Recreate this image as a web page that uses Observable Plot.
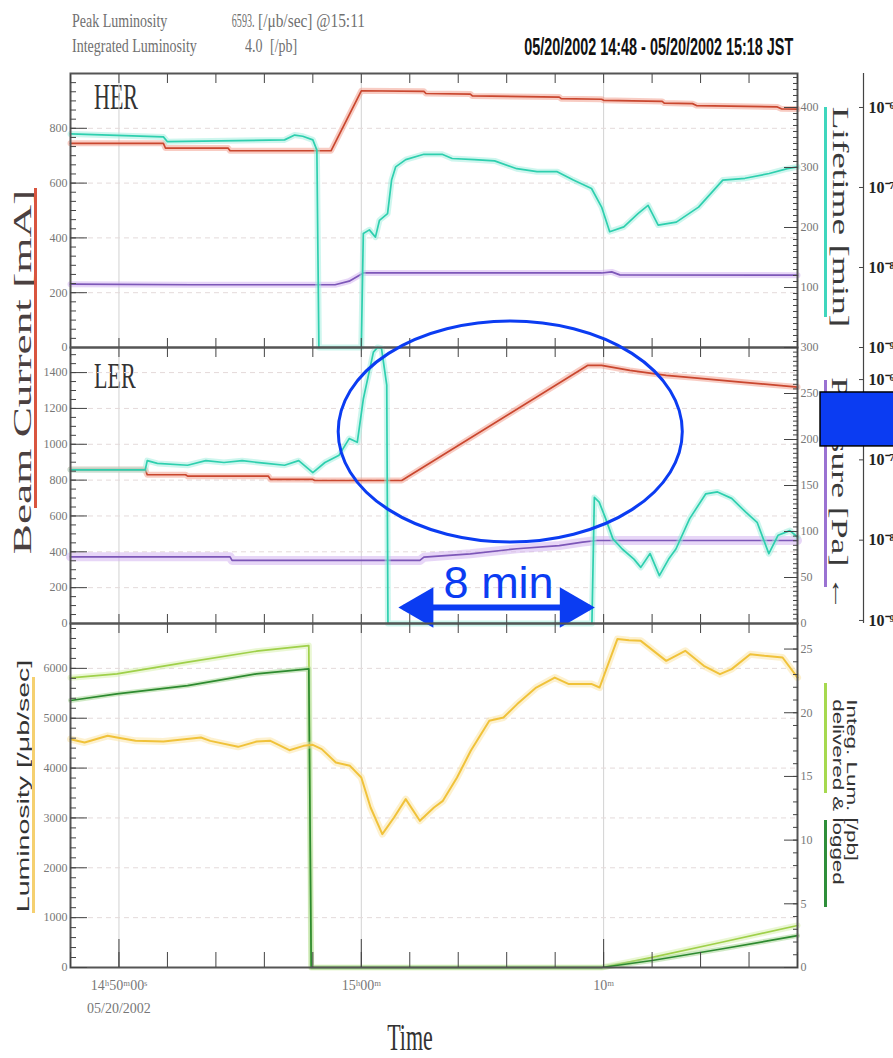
<!DOCTYPE html>
<html>
<head>
<meta charset="utf-8">
<script src="https://cdn.jsdelivr.net/npm/d3@7"></script>
<script src="https://cdn.jsdelivr.net/npm/@observablehq/plot@0.6"></script>
<style>
html,body{margin:0;padding:0;background:#fff;}
body{position:relative;width:893px;height:1058px;overflow:hidden;font-family:"Liberation Serif","DejaVu Serif",serif;}
.t{position:absolute;white-space:nowrap;line-height:1;}
.bar{position:absolute;}
svg{overflow:visible;}
</style>
</head>
<body>
<script>
// ================= DATA =================
const timeStart = "14:48:00", timeEnd = "15:18:00";
const majorTimes = ["14:50:00", "15:00:00", "15:10:00"];
const majorLabels = ["14ʰ50ᵐ00ˢ\n05/20/2002", "15ʰ00ᵐ", "10ᵐ"];

// HER beam current [mA]
const herCurTime = ["14:48:00","14:51:50","14:51:55","14:54:30","14:54:35","14:58:45","15:00:00","15:02:35","15:02:40","15:04:30","15:04:35","15:08:10","15:08:15","15:09:55","15:10:00","15:12:25","15:12:30","15:13:40","15:13:50","15:17:10","15:17:20","15:18:00"];
const herCur = [745,745,728,728,718,718,937,935,927,925,918,914,908,906,902,898,892,890,883,878,871,870];
// HER lifetime [min] (right axis)
const herLifeTime = ["14:48:00","14:51:50","14:52:00","14:56:50","14:57:15","14:57:35","14:58:00","14:58:10","14:58:15","15:00:00","15:00:05","15:00:20","15:00:35","15:00:45","15:01:05","15:01:15","15:01:25","15:01:50","15:02:35","15:03:20","15:03:45","15:04:40","15:05:30","15:06:25","15:07:15","15:08:05","15:08:45","15:09:30","15:09:55","15:10:15","15:10:50","15:11:25","15:11:50","15:12:15","15:13:00","15:13:55","15:14:55","15:15:50","15:16:50","15:17:35","15:18:00"];
const herLife = [356,351,343,346,354,352,346,329,0,0,190,196,184,212,223,279,301,313,322,322,315,313,311,298,293,293,279,265,234,193,201,223,237,204,209,234,279,282,290,298,301];
// HER purple trace (in left-axis units)
const herPurpleTime = ["14:48:00","14:53:00","14:58:55","14:59:30","15:00:05","15:09:55","15:10:20","15:10:40","15:18:00"];
const herPurple = [231,229,229,242,272,272,276,265,264];

// LER beam current [mA]
const lerCurTime = ["14:48:00","14:51:05","14:51:10","14:52:45","14:52:50","14:56:10","14:56:15","14:58:00","14:58:05","15:01:40","15:09:20","15:09:55","15:11:05","15:12:35","15:13:45","15:15:40","15:18:00"];
const lerCur = [859,859,830,830,822,822,804,804,798,798,1440,1440,1412,1384,1371,1347,1319];
// LER cyan trace (right axis units)
const lerLifeTime = ["14:48:00","14:51:05","14:51:10","14:51:35","14:52:50","14:53:35","14:54:20","14:55:05","14:56:05","14:56:50","14:57:25","14:58:00","14:58:30","14:59:05","14:59:30","14:59:50","15:00:05","15:00:30","15:00:40","15:00:50","15:01:03","15:01:06","15:09:31","15:09:37","15:09:49","15:10:05","15:10:23","15:10:46","15:11:15","15:11:32","15:11:55","15:12:18","15:12:41","15:12:59","15:13:33","15:14:13","15:14:42","15:15:17","15:15:52","15:16:20","15:16:49","15:17:12","15:17:41","15:18:00"];
const lerLife = [167,167,177,174,172,177,175,177,174,172,177,164,175,183,201,197,244,295,300,299,259,0,0,137,132,114,92,81,70,61,76,52,70,81,114,141,143,136,121,110,76,96,101,94];
// LER purple trace (left-axis units)
const lerPurpleTime = ["14:48:00","14:54:35","14:54:40","15:02:25","15:02:35","15:04:30","15:06:25","15:08:10","15:09:08","15:09:43","15:18:00"];
const lerPurple = [372,372,352,352,370,389,417,435,454,463,463];

// Luminosity [/μb/sec]
const lumTime = ["14:48:00","14:48:35","14:49:32","14:49:55","14:50:41","14:51:50","14:53:23","14:53:46","14:54:55","14:55:41","14:56:15","14:57:02","14:57:37","14:58:00","14:58:22","14:58:57","14:59:32","15:00:00","15:00:23","15:00:52","15:01:21","15:01:50","15:02:25","15:03:00","15:03:22","15:03:57","15:04:31","15:05:17","15:05:52","15:06:26","15:07:13","15:07:59","15:08:34","15:09:31","15:09:50","15:10:34","15:11:03","15:11:32","15:12:35","15:13:22","15:14:08","15:14:48","15:15:17","15:16:03","15:16:38","15:17:23","15:18:00"];
const lum = [4580,4513,4647,4613,4546,4533,4613,4546,4426,4533,4546,4359,4446,4466,4380,4112,4045,3811,3209,2675,3009,3377,2942,3209,3343,3811,4346,4948,5014,5283,5616,5816,5684,5684,5616,6587,6566,6552,6151,6352,6051,5884,5985,6285,6251,6218,5816];
// Integrated luminosity [/pb] delivered & logged
const intTime = ["14:48:00","14:49:55","14:52:50","14:55:40","14:57:50","14:57:56","15:09:55","15:12:00","15:14:55","15:18:00"];
const intDelivered = [22.74,23.05,23.97,24.83,25.27,0,0,0.8,2.0,3.3];
const intLogged = [20.96,21.48,22.13,23.05,23.45,0,0,0.55,1.47,2.5];

// axis ticks
const herLeftTicks = [0,200,400,600,800];
const herRightTicks = [100,200,300,400];
const lerLeftTicks = [0,200,400,600,800,1000,1200,1400];
const lerRightTicks = [0,50,100,150,200,250,300];
const lumLeftTicks = [0,1000,2000,3000,4000,5000,6000];
const lumRightTicks = [0,5,10,15,20,25];
const logExps = [-9,-8,-7,-6];
const logLabels = ["10⁻⁹","10⁻⁸","10⁻⁷","10⁻⁶"];

// annotation (in data coordinates of the LER panel)
const annEllipseTime = ["14:59:04","15:13:16"], annEllipseVal = [452,1685];
const annArrowTime = ["15:01:45","15:09:25"], annArrowVal = 89;
const annTextTime = "15:05:40", annTextVal = 222, annText = "8 min";
const annBoxTime = ["15:18:57","15:22:40"], annBoxVal = [988,1289];

// ================= STYLE =================
const P = d3.utcParse("%H:%M:%S");
const W = 893, ML = 70, MR = 96;
const xDom = [P(timeStart), P(timeEnd)];
const RED = "#c9472f", RED_H = "#f29a88";
const CYAN = "#2ecfae", CYAN_H = "#9eeedd";
const PURPLE = "#7d57b8", PURPLE_H = "#cfadf0";
const YEL = "#f0c23a", YEL_H = "#fbe3a0";
const LGREEN = "#9fd04a", LGREEN_H = "#d6efaa";
const DGREEN = "#2d8a30", DGREEN_H = "#9fd48c";
const BLUE = "#0b3cf2";
const TICK = "#444", FR = "#555";
const STYLE = "background:transparent;overflow:visible;font-family:'Liberation Serif',serif;font-size:12px;color:#777;position:absolute;left:0px;";

function series(times, vals, k, color, halo, hw = 6, w = 1.7) {
  const data = times.map((t, i) => ({t: P(t), v: vals[i]}));
  return [
    Plot.line(data, {x: "t", y: d => d.v * k, stroke: halo, strokeWidth: hw, strokeOpacity: 0.5, strokeLinejoin: "round"}),
    Plot.line(data, {x: "t", y: d => d.v * k, stroke: color, strokeWidth: w, strokeLinejoin: "round"})
  ];
}
function grid(ticks) {
  return [
    Plot.ruleX(majorTimes.map(P), {stroke: "#d2d2d2", strokeWidth: 1}),
    Plot.ruleY(ticks.filter(d => d > 0), {stroke: "#e4dada", strokeDasharray: "5,4"})
  ];
}
const minorTimes = d3.utcMinute.every(2).range(P(timeStart), P("15:18:01"));
function xTicks(topLen, botLen, botMajorLen) {
  const m = [
    Plot.axisX({anchor: "top", ticks: minorTimes, tickSize: topLen, dy: topLen, tickFormat: () => "", stroke: TICK, label: null}),
    Plot.axisX({anchor: "bottom", ticks: minorTimes, tickSize: botLen, dy: -botLen, tickFormat: () => "", stroke: TICK, label: null})
  ];
  if (botMajorLen) m.push(Plot.axisX({anchor: "bottom", ticks: majorTimes.map(P), tickSize: botMajorLen, dy: -botMajorLen, tickFormat: () => "", stroke: TICK, label: null}));
  return m;
}
function leftAxis(ticks, minorStep, yMax) {
  return [
    Plot.axisY({anchor: "left", ticks: d3.range(0, yMax, minorStep), tickSize: 6, dx: 6, tickFormat: () => "", stroke: TICK, label: null}),
    Plot.axisY({anchor: "left", ticks, tickSize: 17, dx: 17, tickFormat: () => "", stroke: TICK, label: null}),
    Plot.axisY({anchor: "left", ticks, tickSize: 0, tickPadding: 3, tickFormat: d => String(d), label: null})
  ];
}
function rightAxis(ticks, k, minorStep, rMax) {
  const tv = ticks.map(v => v * k);
  return [
    Plot.axisY({anchor: "right", ticks: d3.range(0, rMax, minorStep).map(v => v * k), tickSize: 5, dx: -5, tickFormat: () => "", stroke: TICK, label: null}),
    Plot.axisY({anchor: "right", ticks: tv, tickSize: 14, dx: -14, tickFormat: () => "", stroke: TICK, label: null}),
    Plot.axisY({anchor: "right", ticks: tv, tickSize: 0, tickPadding: 3, tickFormat: d => String(Math.round(d / k)), label: null})
  ];
}
function logAxis(toY) {
  const vals = logExps.map(toY);
  const lab = new Map(vals.map((v, i) => [v, logLabels[i]]));
  return [
    Plot.ruleX([P(timeEnd)], {dx: 66, stroke: "#444", strokeWidth: 1.2}),
    Plot.axisY({anchor: "right", ticks: vals, tickSize: 5, dx: 61, tickFormat: () => "", stroke: "#444", label: null}),
    Plot.axisY({anchor: "right", ticks: vals, tickSize: 0, tickPadding: 5, dx: 66, tickFormat: d => lab.get(d), fill: "#222", fontSize: 16, fontWeight: "bold", label: null})
  ];
}

// ================= HTML TEXT =================
function addText(txt, o) {
  const d = document.createElement("div");
  d.className = "t";
  if (o.html) d.innerHTML = txt; else d.textContent = txt;
  const s = d.style;
  if (o.left !== undefined) s.left = o.left + "px";
  if (o.right !== undefined) s.right = o.right + "px";
  s.top = o.top + "px";
  s.fontFamily = o.font || "'Liberation Serif',serif";
  s.fontSize = o.size + "px";
  s.color = o.color || "#333";
  s.fontWeight = o.weight || "normal";
  if (o.lh) s.lineHeight = o.lh + "px";
  if (o.transform) s.transform = o.transform;
  s.transformOrigin = o.origin || "0 0";
  document.body.appendChild(d);
  return d;
}
function addBar(left, top, w, h, color) {
  const d = document.createElement("div");
  d.className = "bar";
  Object.assign(d.style, {left: left + "px", top: top + "px", width: w + "px", height: h + "px", background: color});
  document.body.appendChild(d);
}
const GRAYT = "#707070";
addText("Peak Luminosity", {left: 72, top: 12, size: 14, color: GRAYT, transform: "scaleY(1.35)"});
addText("6593.", {right: 893 - 254, top: 12, size: 14, color: GRAYT, transform: "scale(0.72,1.35)", origin: "100% 0"});
addText("[/μb/sec] @15:11", {left: 258, top: 12, size: 14, color: GRAYT, transform: "scale(1.1,1.35)"});
addText("Integrated Luminosity", {left: 72, top: 37, size: 14, color: GRAYT, transform: "scaleY(1.35)"});
addText("4.0", {left: 245, top: 37, size: 14, color: GRAYT, transform: "scaleY(1.35)"});
addText("[/pb]", {left: 270, top: 37, size: 14, color: GRAYT, transform: "scaleY(1.35)"});
addText("05/20/2002 14:48 - 05/20/2002 15:18 JST", {right: 100, top: 35, size: 15, weight: "bold", color: "#111",
  font: "'Liberation Sans',sans-serif", transform: "scale(0.96,1.55)", origin: "100% 0"});
addText("HER", {left: 94, top: 80, size: 22, color: "#333", transform: "scaleY(1.6)"});
addText("LER", {left: 94, top: 359, size: 22, color: "#333", transform: "scaleY(1.6)"});
addText("Time", {left: 410, top: 1038, size: 22, color: "#333", transform: "translate(-50%,-50%) scaleY(1.7)", origin: "50% 50%"});

addText("Beam Current [mA]", {left: 23, top: 372, size: 26, color: "#4a4040", transform: "translate(-50%,-50%) rotate(-90deg) scaleX(1.74)", origin: "50% 50%"});
addBar(34, 188, 3, 320, "#d9553f");
addText("Luminosity [/μb/sec]", {left: 24, top: 786, size: 16, color: "#333", font: "'Liberation Sans',sans-serif", transform: "translate(-50%,-50%) rotate(-90deg) scaleX(1.78)", origin: "50% 50%"});
addBar(32, 677, 3, 236, "#f5d070");

addText("Lifetime [min]", {left: 840, top: 217, size: 23, color: "#3a3a3a", transform: "translate(-50%,-50%) rotate(90deg) scaleX(1.62)", origin: "50% 50%"});
addBar(824, 107, 3, 210, "#3fd6bd");
addText("Pressure [Pa] ←", {left: 839, top: 494, size: 23, color: "#3a3a3a", transform: "translate(-50%,-50%) rotate(90deg) scaleX(1.55)", origin: "50% 50%"});
addBar(824, 380, 3, 207, "#9a72d2");
addText("Integ. Lum. [/pb]<br>delivered &amp; logged", {html: true, left: 845, top: 792, size: 14, lh: 14, color: "#333", font: "'Liberation Sans',sans-serif", transform: "translate(-50%,-50%) rotate(90deg) scaleX(1.6)", origin: "50% 50%"});
addBar(824, 683, 3, 110, "#a6d94f");
addBar(824, 820, 3, 87, "#2e8e3a");

// ================= PLOTS =================
function place(svg, top) { svg.style.top = top + "px"; document.body.appendChild(svg); }

// HER
const herK = 2.19;
place(Plot.plot({
  width: W, height: 274, marginLeft: ML, marginRight: MR, marginTop: 0, marginBottom: 0,
  x: {type: "utc", domain: xDom, axis: null, label: null}, y: {domain: [0, 1000], axis: null, label: null},
  style: STYLE,
  marks: [
    ...grid(herLeftTicks),
    ...series(herPurpleTime, herPurple, 1, PURPLE, PURPLE_H, 6),
    ...series(herCurTime, herCur, 1, RED, RED_H, 6),
    ...series(herLifeTime, herLife, herK, CYAN, CYAN_H, 6),
    Plot.frame({stroke: FR, strokeWidth: 2}),
    ...xTicks(9, 9),
    ...leftAxis(herLeftTicks, 1000 / 30, 1000),
    ...rightAxis(herRightTicks, herK, 10, 456),
    ...logAxis(e => (e + 9) * 292)
  ]
}), 73);

// LER
const lerK = 5.133;
const lerAnnRect = [{x1: P(annEllipseTime[0]), x2: P(annEllipseTime[1]), y1: annEllipseVal[0], y2: annEllipseVal[1]}];
const lerArrow = [{x1: P(annArrowTime[0]), x2: P(annArrowTime[1]), y: annArrowVal}];
const lerHeads = [{t: P(annArrowTime[0]), y: annArrowVal}, {t: P(annArrowTime[1]), y: annArrowVal}];
place(Plot.plot({
  width: W, height: 276, marginLeft: ML, marginRight: MR, marginTop: 0, marginBottom: 0,
  x: {type: "utc", domain: xDom, axis: null, label: null}, y: {domain: [0, 1540], axis: null, label: null},
  style: STYLE,
  marks: [
    ...grid(lerLeftTicks),
    ...series(lerPurpleTime, lerPurple, 1, PURPLE, PURPLE_H, 9),
    ...series(lerCurTime, lerCur, 1, RED, RED_H, 6),
    ...series(lerLifeTime, lerLife, lerK, CYAN, CYAN_H, 6),
    Plot.frame({stroke: FR, strokeWidth: 2}),
    ...xTicks(9, 9),
    ...leftAxis(lerLeftTicks, 50, 1540),
    ...rightAxis(lerRightTicks, lerK, 5, 300),
    ...logAxis(e => 17 + (e + 9) * 448),
    // annotations
    Plot.rect(lerAnnRect, {x1: "x1", x2: "x2", y1: "y1", y2: "y2", rx: 400, ry: 400, fill: "none", stroke: BLUE, strokeWidth: 3}),
    Plot.link(lerArrow, {x1: "x1", x2: "x2", y1: "y", y2: "y", stroke: BLUE, strokeWidth: 6}),
    Plot.dot(lerHeads.slice(0, 1), {x: "t", y: "y", symbol: "triangle", r: 15, rotate: -90, dx: 18, fill: BLUE, stroke: "none"}),
    Plot.dot(lerHeads.slice(1), {x: "t", y: "y", symbol: "triangle", r: 15, rotate: 90, dx: -18, fill: BLUE, stroke: "none"}),
    Plot.text([{t: P(annTextTime), y: annTextVal}], {x: "t", y: "y", text: () => annText, fontSize: 45, fill: BLUE, fontFamily: "'Liberation Sans',sans-serif"}),
    Plot.rect([{x1: P(annBoxTime[0]), x2: P(annBoxTime[1]), y1: annBoxVal[0], y2: annBoxVal[1]}], {x1: "x1", x2: "x2", y1: "y1", y2: "y2", fill: BLUE, stroke: "#000", strokeWidth: 1.5})
  ]
}), 347);

// Luminosity
const lumK = 255.5;
const labMap = new Map(majorTimes.map((t, i) => [+P(t), majorLabels[i]]));
place(Plot.plot({
  width: W, height: 344 + 91, marginLeft: ML, marginRight: MR, marginTop: 0, marginBottom: 91,
  x: {type: "utc", domain: xDom, axis: null, label: null}, y: {domain: [0, 6900], axis: null, label: null},
  style: STYLE,
  marks: [
    ...grid(lumLeftTicks),
    ...series(intTime, intDelivered, lumK, LGREEN, LGREEN_H, 6),
    ...series(intTime, intLogged, lumK, DGREEN, DGREEN_H, 5),
    ...series(lumTime, lum, 1, YEL, YEL_H, 7, 2),
    Plot.frame({stroke: FR, strokeWidth: 2}),
    ...xTicks(9, 15, 28),
    ...leftAxis(lumLeftTicks, 200, 6900),
    ...rightAxis(lumRightTicks, lumK, 1, 27),
    Plot.axisX({anchor: "bottom", ticks: majorTimes.map(P), tickSize: 0, tickPadding: 6, tickFormat: d => labMap.get(+d), fontSize: 14, lineHeight: 1.65, fill: "#777", label: null})
  ]
}), 623);
</script>
</body>
</html>
